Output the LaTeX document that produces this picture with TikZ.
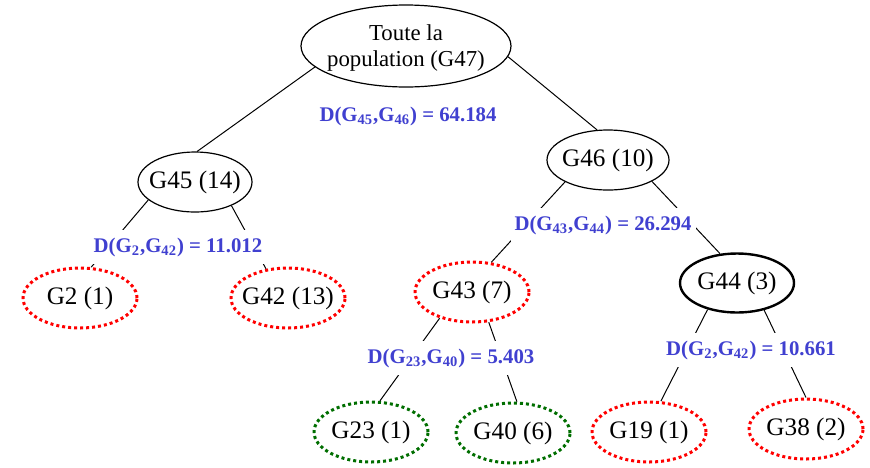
\documentclass[tikz,border=0pt]{standalone}
\usepackage{fontspec}
\setmainfont{Liberation Serif}
\usepackage{tikz}
\usetikzlibrary{arrows,positioning,shapes.geometric}
\definecolor{distblue}{RGB}{64,64,208}
\definecolor{leafred}{RGB}{255,0,0}
\definecolor{leafgreen}{RGB}{0,110,0}
\newcommand{\grp}[1]{\makebox[0pt]{#1}}
\newcommand{\dist}[3]{D(G\textsubscript{#1},G\textsubscript{#2}) = #3}

\begin{document}
\begin{tikzpicture}[x=0.5pt, y=-0.5pt, line width=0.5pt,
 grp/.style={draw, ellipse, line width=0.6pt, inner sep=0pt, minimum width=57pt,
  minimum height=30pt, font=\fontsize{12.6}{15}\selectfont},
 leaf/.style={grp, line width=1.5pt, dash pattern=on 1.5pt off 1.5pt},
 redleaf/.style={leaf, draw=leafred},
 greenleaf/.style={leaf, draw=leafgreen},
 dist/.style={fill=white, text=distblue, inner xsep=2pt, inner ysep=4pt,
  font=\fontsize{10.4}{12}\selectfont\bfseries}]
\useasboundingbox (0,0) rectangle (870,467);
\node[grp, minimum width=105pt, minimum height=41pt] (g47) at (406,46) {};
\node[font=\fontsize{11.4}{13}\selectfont] (g47txt) at (406,48) {\begin{tabular}{c} Toute la\\ population (G47) \end{tabular}};
\node[grp] (g45) at (195,182) {\grp{G45 (14)}};
\node[grp, minimum width=61pt] (g46) at (608,160) {\grp{G46 (10)}};
\node[grp, line width=1.2pt, minimum width=57pt, minimum height=29.5pt] (g44) at (737,283) {\grp{G44 (3)}};
\node[redleaf] (g2) at (80,298) {\grp{G2 (1)}};
\node[redleaf] (g42) at (288,298) {\grp{G42 (13)}};
\node[redleaf] (g43) at (472,292) {\grp{G43 (7)}};
\node[greenleaf] (g23) at (371,432) {\grp{G23 (1)}};
\node[greenleaf] (g40) at (513,433) {\grp{G40 (6)}};
\node[redleaf] (g19) at (649,432) {\grp{G19 (1)}};
\node[redleaf] (g38) at (806,429) {\grp{G38 (2)}};
% \path (g47) edge (g45);
\path (g47.193) edge (g45.86);
\path (g47.354) edge (g46.110);
\path (g45.201) edge (g2.70);
\path (g45.327) edge (g42.127);
\path (g46.207) edge (g43.57);
\path (g46.334) edge (g44.120);
\path (g43.219) edge (g23.74);
\path (g43.299) edge (g40.83);
\path (g44.222) edge (g19.69);
\path (g44.315) edge (g38.90);
\node[dist] (d4546) at (408,116) {\dist{45}{46}{64.184}};
\node[dist] (d242) at (178,247) {\dist{2}{42}{11.012}};
\node[dist] (d4344) at (603,225) {\dist{43}{44}{26.294}};
\node[dist] (d2340) at (451,358) {\dist{23}{40}{5.403}};
\node[dist] (d1938) at (751,350) {\dist{2}{42}{10.661}};
\end{tikzpicture}
\end{document}
